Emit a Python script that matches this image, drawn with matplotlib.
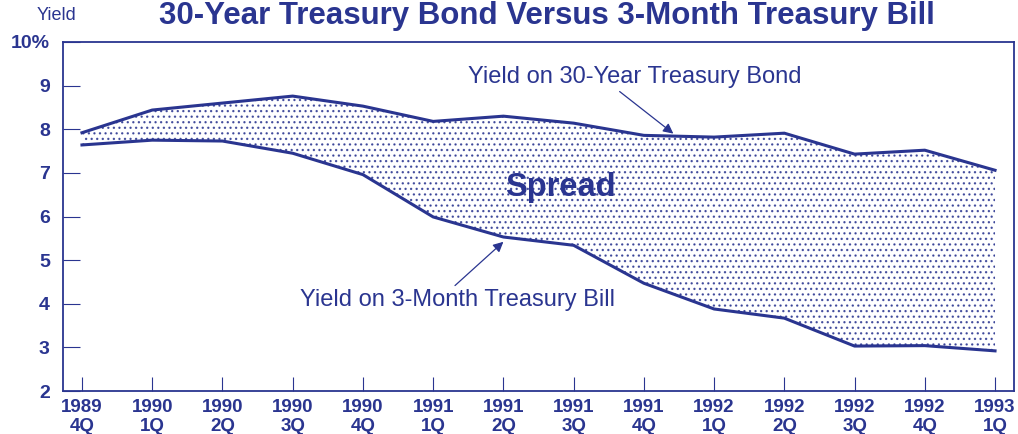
import matplotlib.pyplot as plt
import numpy as np

plt.rcParams['font.family'] = ['Liberation Sans', 'DejaVu Sans']

NAVY = '#2a3590'

# Quartale als Achsenbeschriftung
quarters = ['1989\n4Q', '1990\n1Q', '1990\n2Q', '1990\n3Q', '1990\n4Q',
            '1991\n1Q', '1991\n2Q', '1991\n3Q', '1991\n4Q',
            '1992\n1Q', '1992\n2Q', '1992\n3Q', '1992\n4Q', '1993\n1Q']

# Renditen in Prozent
bond_30y = [7.92, 8.44, 8.60, 8.76, 8.53, 8.18, 8.30, 8.14, 7.86,
            7.82, 7.91, 7.43, 7.52, 7.06]
bill_3m = [7.64, 7.75, 7.73, 7.45, 6.96, 5.99, 5.53, 5.34, 4.47,
           3.88, 3.67, 3.03, 3.04, 2.92]

y_ticks = [2, 3, 4, 5, 6, 7, 8, 9, 10]
y_labels = ['2', '3', '4', '5', '6', '7', '8', '9', '10%']

fig = plt.figure(figsize=(10.18, 4.34), dpi=100)
ax = fig.add_axes([63 / 1018, 43 / 434, 951 / 1018, 349 / 434])

x = np.arange(len(quarters))

# Spread als gepunktete Fläche
plt.rcParams['hatch.linewidth'] = 0.9
ax.fill_between(x, bill_3m, bond_30y, facecolor='white', edgecolor=NAVY,
                hatch='...', linewidth=0, alpha=0.8)
ax.plot(x, bond_30y, color=NAVY, lw=2.2)
ax.plot(x, bill_3m, color=NAVY, lw=2.2)

ax.set_xlim(-0.27, 13.27)
ax.set_ylim(2, 10)
ax.set_xticks(x)
ax.set_xticklabels(quarters, fontsize=13.5, color=NAVY, linespacing=1.1,
                   fontweight='bold')
ax.set_yticks(y_ticks)
ax.set_yticklabels(y_labels, fontsize=14, color=NAVY, fontweight='bold')
ax.tick_params(axis='x', direction='in', length=10, color=NAVY, pad=6)
ax.tick_params(axis='y', direction='in', length=12, color=NAVY, pad=9.5)
for s in ax.spines.values():
    s.set_color(NAVY)
    s.set_linewidth(1.3)

# Beschriftungen
fig.text(0.537, 0.963, '30-Year Treasury Bond Versus 3-Month Treasury Bill',
         ha='center', va='center', fontsize=22.5, fontweight='bold', color=NAVY)
fig.text(37 / 1018, 1 - 16 / 434, 'Yield', ha='left', va='center',
         fontsize=13, color=NAVY)

ax.annotate('Yield on 30-Year Treasury Bond', xy=(8.42, 7.90),
            xytext=(5.5, 9.2), fontsize=17, color=NAVY, ha='left', va='center',
            arrowprops=dict(arrowstyle='-|>', color=NAVY, lw=0.9,
                            shrinkA=1, shrinkB=0, mutation_scale=15,
                            relpos=(0.44, 0.0)))
ax.annotate('Yield on 3-Month Treasury Bill', xy=(6.0, 5.42),
            xytext=(3.1, 4.08), fontsize=17, color=NAVY, ha='left', va='center',
            arrowprops=dict(arrowstyle='-|>', color=NAVY, lw=0.9,
                            shrinkA=1, shrinkB=0, mutation_scale=15,
                            relpos=(0.48, 1.0)))
ax.text(6.81, 6.67, 'Spread', fontsize=23.5, fontweight='bold', color=NAVY,
        ha='center', va='center')

fig.savefig('out.png', dpi=100)
